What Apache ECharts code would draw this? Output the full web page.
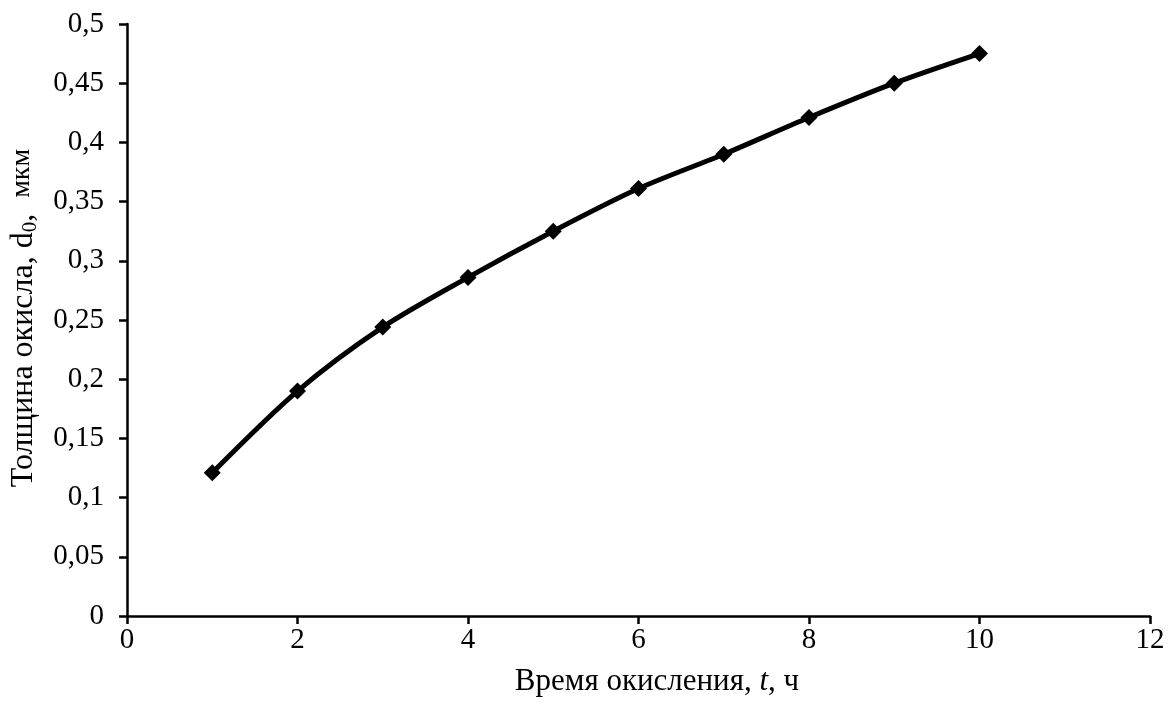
<!DOCTYPE html>
<html>
<head>
  <meta charset="utf-8">
  <title>Толщина окисла</title>
  <script src="https://cdn.jsdelivr.net/npm/echarts@6/dist/echarts.min.js"></script>
  <style>
    html, body { margin: 0; padding: 0; background: #fff; }
    #chart { width: 1172px; height: 708px; }
  </style>
</head>
<body>
  <div id="chart"></div>
  <script>
    // время окисления, ч
    let times = [1, 2, 3, 4, 5, 6, 7, 8, 9, 10]
    // толщина окисла, мкм
    let thickness = [0.121, 0.19, 0.244, 0.286, 0.325, 0.361, 0.39, 0.421, 0.45, 0.475]

    let font = 'Liberation Serif'
    let chart = echarts.init(document.getElementById('chart'))

    let fmt = (v) => String(Math.round(v * 100) / 100).replace('.', ',')

    let option = {
      animation: false,
      grid: { left: 127, right: 22, top: 24, bottom: 92, containLabel: false },
      xAxis: {
        type: 'value',
        min: 0, max: 12, interval: 2,
        splitLine: { show: false },
        axisLine: { show: true, onZero: false, lineStyle: { color: '#000', width: 2.5 } },
        axisTick: { show: true, length: 8, lineStyle: { color: '#000', width: 2.5 } },
        axisLabel: { fontFamily: font, fontSize: 29, color: '#000', margin: 10, formatter: fmt }
      },
      yAxis: {
        type: 'value',
        min: 0, max: 0.5, interval: 0.05,
        splitLine: { show: false },
        axisLine: { show: true, onZero: false, lineStyle: { color: '#000', width: 2.5 } },
        axisTick: { show: true, length: 8, lineStyle: { color: '#000', width: 2.5 } },
        axisLabel: { fontFamily: font, fontSize: 29, color: '#000', margin: 23, formatter: fmt }
      },
      graphic: [
        {
          // подпись оси X
          type: 'text',
          x: 657,
          y: 682,
          style: {
            text: '{n|Время окисления, }{i|t}{n|, ч}',
            align: 'center',
            verticalAlign: 'middle',
            rich: {
              n: { fontFamily: font, fontSize: 31, fill: '#000' },
              i: { fontFamily: font, fontSize: 31, fill: '#000', fontStyle: 'italic' }
            }
          }
        },
        {
          // подпись оси Y
          type: 'text',
          x: 24,
          y: 318,
          rotation: Math.PI / 2,
          style: {
            text: '{n|Толщина окисла, d}{s|0}{n|,  }{u|мкм}',
            align: 'center',
            verticalAlign: 'middle',
            rich: {
              n: { fontFamily: font, fontSize: 32, fill: '#000' },
              s: { fontFamily: font, fontSize: 21, fill: '#000', padding: [12, 0, 0, 0] },
              u: { fontFamily: font, fontSize: 28, fill: '#000', padding: [0, 0, 4, 0] }
            }
          }
        }
      ],
      series: [{
        type: 'line',
        smooth: 0.3,
        symbol: 'diamond',
        symbolSize: 17,
        showSymbol: true,
        lineStyle: { color: '#000', width: 5 },
        itemStyle: { color: '#000' },
        data: times.map((t, i) => [t, thickness[i]])
      }]
    }
    chart.setOption(option)
  </script>
</body>
</html>
